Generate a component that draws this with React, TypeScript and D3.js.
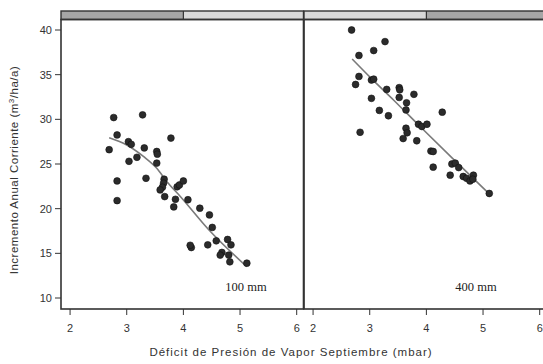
import React from "react";
import * as d3 from "d3";

// ---- data ----
const leftX = [2.77,3.28,2.83,3.03,3.08,2.69,3.31,3.53,3.54,3.78,3.04,3.18,3.53,2.83,3.34,3.66,3.65,3.63,3.59,3.67,3.89,3.93,4.0,3.86,3.83,2.83,4.08,4.29,4.46,4.51,4.58,4.78,4.84,4.43,4.14,4.12,4.68,4.65,4.80,4.82,5.12];
const leftY = [30.2,30.5,28.25,27.5,27.2,26.6,26.8,26.4,26.1,27.9,25.3,25.75,25.1,23.1,23.4,23.3,22.85,22.4,22.1,21.35,22.45,22.65,23.1,21.05,20.2,20.9,21.0,20.05,19.3,17.9,16.4,16.55,15.95,15.95,15.65,15.9,15.1,14.8,14.8,14.05,13.9];
const rightX = [2.68,3.27,3.07,2.81,2.81,2.75,3.03,3.07,3.30,3.52,3.53,3.78,3.52,3.65,3.64,3.03,3.17,3.33,2.83,3.64,3.66,3.59,4.28,3.86,3.92,4.01,3.83,4.08,4.12,4.12,4.45,4.51,4.57,4.42,4.65,4.71,4.77,4.83,4.82,5.11];
const rightY = [40.0,38.7,37.7,37.15,34.8,33.9,34.4,34.5,33.35,33.55,33.3,32.8,32.45,31.85,31.05,32.35,31.0,30.4,28.55,29.0,28.5,27.85,30.8,29.45,29.2,29.45,27.6,26.45,26.4,24.65,25.0,25.1,24.6,23.75,23.6,23.4,23.1,23.75,23.3,21.7];
const leftSmoothX = [2.69,3.0,3.3,3.53,3.71,3.95,4.44,5.12];
const leftSmoothY = [27.94,27.13,25.82,24.52,23.02,21.34,17.7,13.5];
const rightSmoothX = [2.69,3.04,3.42,3.88,4.5,5.1];
const rightSmoothY = [36.75,34.5,32.17,29.25,25.4,21.72];
const xTicks = [2,3,4,5,6];
const yTicks = [10,15,20,25,30,35,40];
const panelLabels = ["100 mm","400 mm"];

const panels = [
  { xs: leftX, ys: leftY, sx: leftSmoothX, sy: leftSmoothY, label: panelLabels[0], x0: 61, darkLeft: true },
  { xs: rightX, ys: rightY, sx: rightSmoothX, sy: rightSmoothY, label: panelLabels[1], x0: 304, darkLeft: false },
];

const PW = 242.5;
const yTop = 19.5, yBot = 309, stripTop = 11;
const y = d3.scaleLinear().domain([10, 40]).range([298, 30]);
const sans = "Liberation Sans, Arial, sans-serif";

export default function App() {
  return (
    <svg width={543} height={364} style={{ position: "absolute", left: 0, top: 0 }}>
      <rect width={543} height={364} fill="#fff" />
      {panels.map((p, i) => {
        const x = d3.scaleLinear().domain([1.84, 6.12]).range([p.x0, p.x0 + PW]);
        const line = d3.line<number>().x((_, k) => x(p.sx[k])).y((_, k) => y(p.sy[k])).curve(d3.curveMonotoneX);
        const split = x(4);
        return (
          <g key={i}>
            <rect x={p.x0} y={stripTop} width={split - p.x0} height={yTop - stripTop} fill={p.darkLeft ? "#a6a6a6" : "#d9d9d9"} />
            <rect x={split} y={stripTop} width={p.x0 + PW - split} height={yTop - stripTop} fill={p.darkLeft ? "#d9d9d9" : "#a6a6a6"} />
            <rect x={p.x0} y={stripTop} width={PW} height={yTop - stripTop} fill="none" stroke="#333" strokeWidth={1.4} />
            <line x1={split} x2={split} y1={stripTop} y2={yTop} stroke="#333" strokeWidth={1.2} />
            <path d={line(p.sx) || ""} fill="none" stroke="#7a7a7a" strokeWidth={1.6} />
            {p.xs.map((v, k) => (
              <circle key={k} cx={x(v)} cy={y(p.ys[k])} r={3.4} fill="#2b2b2b" stroke="#111" strokeWidth={0.6} />
            ))}
            <rect x={p.x0} y={yTop} width={PW} height={yBot - yTop} fill="none" stroke="#333" strokeWidth={1.6} />
            <text x={i === 0 ? 246 : 476} y={291} textAnchor="middle" fontFamily="Liberation Serif, Times New Roman, serif" fontSize={12.5} fill="#222">{p.label}</text>
            {xTicks.map((t) => (
              <g key={t}>
                <line x1={x(t)} x2={x(t)} y1={yBot} y2={yBot + 6} stroke="#333" strokeWidth={1} />
                <text x={x(t)} y={332} textAnchor="middle" fontFamily={sans} fontSize={11} fill="#333">{t}</text>
              </g>
            ))}
          </g>
        );
      })}
      {yTicks.map((t) => (
        <g key={t}>
          <line x1={55} x2={61} y1={y(t)} y2={y(t)} stroke="#333" strokeWidth={1} />
          <text x={52} y={y(t) + 4} textAnchor="end" fontFamily={sans} fontSize={11} fill="#333">{t}</text>
        </g>
      ))}
      <text transform={`translate(18,170) rotate(-90)`} textAnchor="middle" fontFamily={sans} fontSize={11.5} letterSpacing={0.5} fill="#333">
        Incremento Anual Corriente (m<tspan dy={-4} fontSize={8}>3</tspan><tspan dy={4}>/ha/a)</tspan>
      </text>
      <text x={291} y={356} textAnchor="middle" fontFamily={sans} fontSize={11.5} letterSpacing={1} fill="#333">Déficit de Presión de Vapor Septiembre (mbar)</text>
    </svg>
  );
}
